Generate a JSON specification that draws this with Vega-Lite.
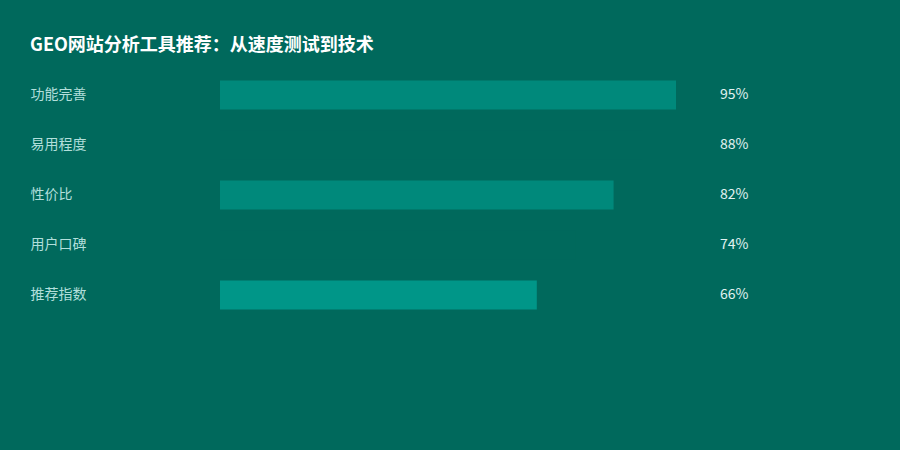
{
  "$schema": "https://vega.github.io/schema/vega-lite/v6.json",
  "autosize": "none",
  "width": 480,
  "height": 250,
  "padding": {"left": 220, "top": 70, "right": 200, "bottom": 130},
  "background": "#00695c",
  "title": {
    "text": "GEO网站分析工具推荐：从速度测试到技术",
    "anchor": "start",
    "frame": "group",
    "dx": -190,
    "offset": 15,
    "font": "Noto Sans CJK SC",
    "fontSize": 18,
    "fontWeight": "bold",
    "color": "#ffffff"
  },
  "config": {
    "view": {"stroke": null},
    "font": "Noto Sans CJK SC"
  },
  "data": {
    "values": [
      {"metric": "功能完善", "score": 95},
      {"metric": "易用程度", "score": 88},
      {"metric": "性价比", "score": 82},
      {"metric": "用户口碑", "score": 74},
      {"metric": "推荐指数", "score": 66}
    ]
  },
  "encoding": {
    "y": {
      "field": "metric",
      "type": "nominal",
      "sort": null,
      "title": null,
      "scale": {"paddingInner": 0.42, "paddingOuter": 0.21},
      "axis": {
        "domain": false,
        "ticks": false,
        "grid": false,
        "labelAlign": "left",
        "labelPadding": 190,
        "labelFontSize": 14,
        "labelColor": "#b2dfdb",
        "labelFont": "Noto Sans CJK SC"
      }
    }
  },
  "layer": [
    {
      "mark": {"type": "bar"},
      "encoding": {
        "x": {
          "field": "score",
          "type": "quantitative",
          "scale": {"domain": [0, 100]},
          "axis": null
        },
        "color": {
          "field": "metric",
          "type": "nominal",
          "legend": null,
          "scale": {
            "domain": ["功能完善", "易用程度", "性价比", "用户口碑", "推荐指数"],
            "range": ["#00897b", "#00695c", "#00897b", "#00695c", "#009688"]
          }
        }
      }
    },
    {
      "mark": {
        "type": "text",
        "align": "left",
        "dx": 20,
        "fontSize": 14,
        "color": "#e0f2f1",
        "font": "Noto Sans CJK SC",
        "text": {"expr": "datum.score + '%'"}
      },
      "encoding": {
        "x": {"datum": 100, "type": "quantitative"}
      }
    }
  ]
}
